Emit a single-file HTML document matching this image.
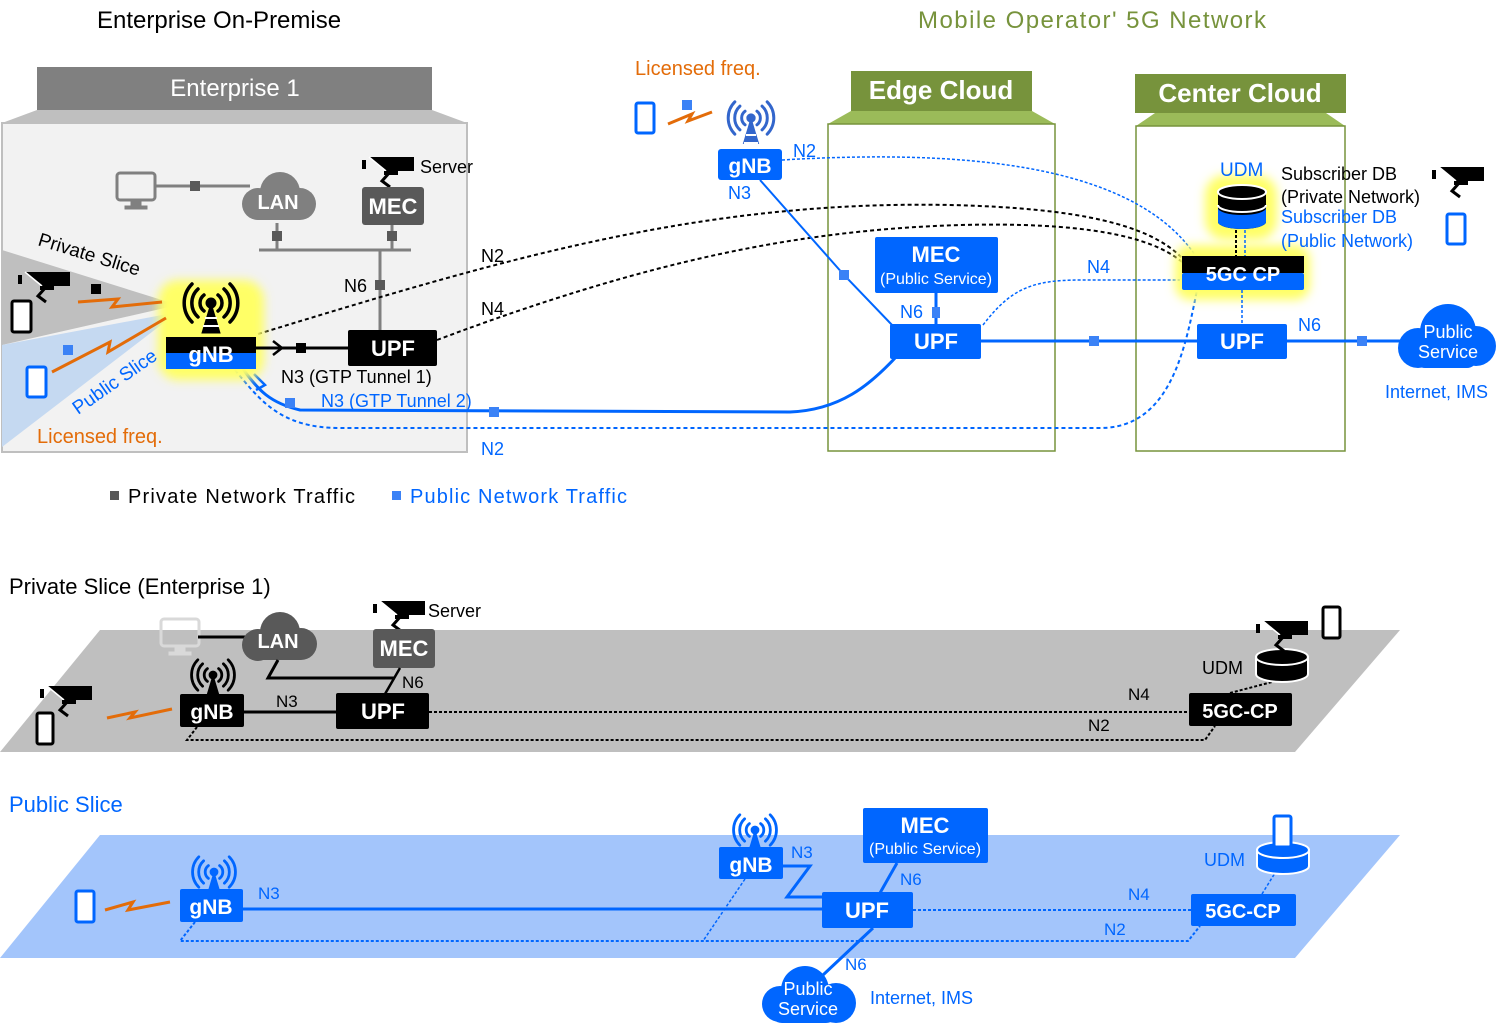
<!DOCTYPE html>
<html><head><meta charset="utf-8"><style>
html,body{margin:0;padding:0;background:#fff;}
svg{display:block;font-family:"Liberation Sans",sans-serif;}
</style></head><body>
<svg width="1502" height="1035" viewBox="0 0 1502 1035" xmlns="http://www.w3.org/2000/svg">
<defs>
<filter id="glow" x="-50%" y="-50%" width="200%" height="200%"><feGaussianBlur stdDeviation="5"/></filter>
<g id="antK">
 <path d="M-7,-8 A10,10 0 0 0 -7,8 M7,-8 A10,10 0 0 1 7,8 M-13,-14 A19,19 0 0 0 -13,14 M13,-14 A19,19 0 0 1 13,14 M-19,-19 A27,27 0 0 0 -19,19 M19,-19 A27,27 0 0 1 19,19" fill="none" stroke-width="3.5" stroke-linecap="round"/>
 <circle r="5"/>
 <path d="M0,0 L-9,30 L9,30 Z"/>
</g>
<g id="cam">
 <rect x="0" y="3" width="4" height="9" fill="#000"/>
 <path d="M7,0 L52,0 L52,14 L24,14 Z" fill="#000"/>
 <path d="M7,0 L24,14" stroke="#fff" stroke-width="1.5"/>
 <path d="M28,15 L20,24 L28,30" fill="none" stroke="#000" stroke-width="3"/>
 <rect x="22" y="14" width="14" height="4" fill="#000"/>
</g>
<g id="monitor">
 <rect x="0" y="0" width="38" height="27" rx="3" fill="none" stroke-width="3"/>
 <rect x="14" y="28" width="10" height="5"/>
 <rect x="8" y="33" width="22" height="3"/>
</g>
</defs>

<!-- Titles -->
<text x="97" y="28" font-size="24" fill="#000">Enterprise On-Premise</text>
<text x="918" y="28" font-size="24" fill="#77933c" textLength="348">Mobile Operator' 5G Network</text>

<!-- Enterprise box -->
<rect x="37" y="67" width="395" height="43" fill="#808080"/>
<text x="235" y="96" font-size="24" fill="#fff" text-anchor="middle">Enterprise 1</text>
<polygon points="37,110 432,110 467,123 2,123" fill="#bfbfbf"/>
<rect x="2" y="123" width="465" height="329" fill="#f2f2f2" stroke="#bfbfbf" stroke-width="2"/>
<polygon points="2,250 178,305 2,345" fill="#bfbfbf"/>
<polygon points="2,345 178,312 2,447" fill="#c5d9f1"/>

<!-- Edge cloud -->
<rect x="851" y="71" width="181" height="40" fill="#77933c"/>
<text x="941" y="99" font-size="26" font-weight="bold" fill="#fff" text-anchor="middle">Edge Cloud</text>
<polygon points="851,111 1032,111 1055,124 828,124" fill="#9bbb59"/>
<rect x="828" y="124" width="227" height="327" fill="#fff" stroke="#77933c" stroke-width="1.5"/>
<!-- Center cloud -->
<rect x="1135" y="74" width="211" height="39" fill="#77933c"/>
<text x="1240" y="102" font-size="26" font-weight="bold" fill="#fff" text-anchor="middle">Center Cloud</text>
<polygon points="1155,113 1326,113 1345,126 1136,126" fill="#9bbb59"/>
<rect x="1136" y="126" width="209" height="325" fill="#fff" stroke="#77933c" stroke-width="1.5"/>

<!-- monitor/LAN/MEC -->
<use href="#monitor" x="117" y="173" stroke="#808080" fill="#808080"/>
<line x1="156" y1="186" x2="250" y2="186" stroke="#808080" stroke-width="3"/>
<rect x="190" y="181" width="10" height="10" fill="#595959"/>
<g fill="#808080"><circle cx="258" cy="204" r="16"/><circle cx="280" cy="192" r="20"/><circle cx="300" cy="204" r="16"/><rect x="258" y="200" width="42" height="20"/></g>
<text x="278" y="209" font-size="20" font-weight="bold" fill="#fff" text-anchor="middle">LAN</text>
<use href="#cam" x="362" y="157"/>
<text x="420" y="173" font-size="18">Server</text>
<rect x="362" y="187" width="62" height="38" rx="3" fill="#595959"/>
<text x="393" y="214" font-size="22" font-weight="bold" fill="#fff" text-anchor="middle">MEC</text>
<line x1="259" y1="250" x2="411" y2="250" stroke="#808080" stroke-width="3"/>
<line x1="277" y1="223" x2="277" y2="250" stroke="#808080" stroke-width="3"/>
<line x1="392" y1="225" x2="392" y2="250" stroke="#808080" stroke-width="3"/>
<rect x="272" y="231" width="10" height="10" fill="#595959"/>
<rect x="387" y="231" width="10" height="10" fill="#595959"/>
<line x1="380" y1="250" x2="380" y2="330" stroke="#808080" stroke-width="3"/>
<rect x="375" y="280" width="10" height="10" fill="#595959"/>
<text x="344" y="292" font-size="18">N6</text>

<!-- dotted black N2/N4 -->
<path d="M258,334 C500,260 700,200 950,205 C1080,208 1150,225 1182,258" fill="none" stroke="#000" stroke-width="2" stroke-dasharray="4,3"/>
<path d="M437,340 C650,260 800,230 960,225 C1080,222 1150,235 1182,262" fill="none" stroke="#000" stroke-width="2" stroke-dasharray="4,3"/>
<text x="481" y="262" font-size="18">N2</text>
<text x="481" y="315" font-size="18">N4</text>

<!-- blue tunnel 2 -->
<path d="M243,369 C258,390 270,403 300,410 L790,412 C840,410 870,385 896,357" fill="none" stroke="#0066ff" stroke-width="3"/>
<path d="M254,374 L265,385 L256,390" fill="none" stroke="#0066ff" stroke-width="2.5"/>
<rect x="285" y="398" width="10" height="10" fill="#3b82f6"/>
<rect x="489" y="407" width="10" height="10" fill="#3b82f6"/>
<text x="321" y="407" font-size="18" fill="#0066ff">N3 (GTP Tunnel 2)</text>
<path d="M235,370 C260,400 280,428 340,428 L1100,428 C1170,428 1185,350 1197,290" fill="none" stroke="#0066ff" stroke-width="2" stroke-dasharray="4,3"/>
<text x="481" y="455" font-size="18" fill="#0066ff">N2</text>

<!-- gNB enterprise -->
<rect x="158" y="280" width="106" height="100" rx="20" fill="#ffff66" filter="url(#glow)"/>
<use href="#antK" x="211" y="303" stroke="#000" fill="#000"/>
<path d="M205,318 L217,318 M203,326 L219,326" stroke="#fff" stroke-width="2"/>
<rect x="166" y="337" width="90" height="16" fill="#000"/>
<rect x="166" y="353" width="90" height="16" fill="#0066ff"/>
<text x="211" y="362" font-size="22" font-weight="bold" fill="#fff" text-anchor="middle">gNB</text>
<line x1="256" y1="348" x2="348" y2="348" stroke="#000" stroke-width="3"/>
<path d="M273,341 L282,348 L273,355" fill="none" stroke="#000" stroke-width="2.5"/>
<rect x="296" y="343" width="10" height="10" fill="#000"/>
<rect x="348" y="330" width="89" height="36" rx="2" fill="#000"/>
<text x="393" y="356" font-size="22" font-weight="bold" fill="#fff" text-anchor="middle">UPF</text>
<text x="281" y="383" font-size="18">N3 (GTP Tunnel 1)</text>

<!-- devices enterprise -->
<text x="37" y="245" font-size="19" transform="rotate(17 37 245)">Private Slice</text>
<text x="78" y="415" font-size="19" fill="#0066ff" transform="rotate(-35 78 415)">Public Slice</text>
<use href="#cam" x="18" y="272"/>
<rect x="12" y="301" width="19" height="31" rx="2" fill="#fff" stroke="#000" stroke-width="3"/>
<rect x="91" y="284" width="10" height="10" fill="#000"/>
<path d="M78,302 L118,299 L112,307 L162,302" fill="none" stroke="#e36c09" stroke-width="3"/>
<rect x="63" y="345" width="10" height="10" fill="#3b82f6"/>
<path d="M52,372 L110,342 L108,352 L166,318" fill="none" stroke="#e36c09" stroke-width="3"/>
<rect x="27" y="367" width="19" height="30" rx="2" fill="#fff" stroke="#0066ff" stroke-width="3"/>
<text x="37" y="443" font-size="20" fill="#e36c09">Licensed freq.</text>

<!-- legend -->
<rect x="110" y="491" width="9" height="9" fill="#595959"/>
<text x="128" y="503" font-size="20" textLength="227">Private Network Traffic</text>
<rect x="392" y="491" width="9" height="9" fill="#3b82f6"/>
<text x="410" y="503" font-size="20" fill="#0066ff" textLength="217">Public Network Traffic</text>

<!-- mobile gNB -->
<text x="635" y="75" font-size="20" fill="#e36c09">Licensed freq.</text>
<rect x="636" y="103" width="18" height="30" rx="2" fill="#fff" stroke="#0066ff" stroke-width="3"/>
<rect x="682" y="100" width="10" height="10" fill="#3b82f6"/>
<path d="M668,124 L692,114 L688,121 L712,112" fill="none" stroke="#e36c09" stroke-width="3"/>
<use href="#antK" x="751" y="118" stroke="#3366cc" fill="#3366cc" transform="translate(751 118) scale(0.85) translate(-751 -118)"/>
<path d="M746,135 L756,135 M744,143 L758,143" stroke="#fff" stroke-width="2"/>
<rect x="718" y="149" width="64" height="31" rx="3" fill="#0066ff"/>
<text x="750" y="173" font-size="21" font-weight="bold" fill="#fff" text-anchor="middle">gNB</text>
<text x="793" y="157" font-size="18" fill="#0066ff">N2</text>
<text x="728" y="199" font-size="18" fill="#0066ff">N3</text>
<path d="M760,180 L844,275 L893,326" fill="none" stroke="#0066ff" stroke-width="2"/>
<rect x="839" y="270" width="10" height="10" fill="#3b82f6"/>
<path d="M782,160 C950,150 1130,160 1195,255" fill="none" stroke="#0066ff" stroke-width="1.5" stroke-dasharray="3,2"/>

<!-- Edge MEC/UPF -->
<rect x="875" y="237" width="123" height="56" rx="2" fill="#0066ff"/>
<text x="936" y="262" font-size="22" font-weight="bold" fill="#fff" text-anchor="middle">MEC</text>
<text x="936" y="284" font-size="16" fill="#fff" text-anchor="middle">(Public Service)</text>
<line x1="936" y1="293" x2="936" y2="324" stroke="#0066ff" stroke-width="3"/>
<rect x="932" y="307" width="8" height="11" fill="#3b82f6"/>
<text x="900" y="318" font-size="18" fill="#0066ff">N6</text>
<path d="M983,325 C1010,290 1030,280 1080,280 L1180,280" fill="none" stroke="#0066ff" stroke-width="1.5" stroke-dasharray="3,2"/>
<text x="1087" y="273" font-size="18" fill="#0066ff">N4</text>
<rect x="890" y="324" width="91" height="35" rx="2" fill="#0066ff"/>
<text x="936" y="349" font-size="22" font-weight="bold" fill="#fff" text-anchor="middle">UPF</text>
<line x1="981" y1="341" x2="1197" y2="341" stroke="#0066ff" stroke-width="3"/>
<rect x="1089" y="336" width="10" height="10" fill="#3b82f6"/>

<!-- Center: UDM, 5GC CP -->
<rect x="1175" y="245" width="135" height="55" rx="15" fill="#ffff66" filter="url(#glow)"/>
<rect x="1205" y="175" width="72" height="65" rx="20" fill="#ffff66" filter="url(#glow)"/>
<text x="1220" y="176" font-size="19" fill="#0066ff">UDM</text>
<path d="M1218,192 L1218,222 A24,7 0 0 0 1266,222 L1266,192 Z" fill="#000"/>
<path d="M1218,208 L1218,222 A24,7 0 0 0 1266,222 L1266,208 A24,7 0 0 1 1218,208 Z" fill="#0066ff"/>
<ellipse cx="1242" cy="192" rx="24" ry="7" fill="#000" stroke="#fff" stroke-width="2"/>
<path d="M1218,205 A24,7 0 0 0 1266,205" fill="none" stroke="#fff" stroke-width="2"/>
<line x1="1236" y1="230" x2="1236" y2="256" stroke="#000" stroke-width="2" stroke-dasharray="3,2"/>
<line x1="1245" y1="230" x2="1245" y2="256" stroke="#0066ff" stroke-width="1.5" stroke-dasharray="3,2"/>
<rect x="1182" y="256" width="122" height="17" fill="#000"/>
<rect x="1182" y="273" width="122" height="17" rx="2" fill="#0066ff"/>
<text x="1243" y="281" font-size="20" font-weight="bold" fill="#fff" text-anchor="middle">5GC CP</text>
<line x1="1242" y1="290" x2="1242" y2="324" stroke="#0066ff" stroke-width="1.5" stroke-dasharray="3,2"/>
<text x="1281" y="180" font-size="18">Subscriber DB</text>
<text x="1281" y="203" font-size="18">(Private Network)</text>
<text x="1281" y="223" font-size="18" fill="#0066ff">Subscriber DB</text>
<text x="1281" y="247" font-size="18" fill="#0066ff">(Public Network)</text>
<use href="#cam" x="1432" y="167"/>
<rect x="1447" y="214" width="18" height="30" rx="2" fill="#fff" stroke="#0066ff" stroke-width="3"/>
<rect x="1197" y="324" width="90" height="35" rx="2" fill="#0066ff"/>
<text x="1242" y="349" font-size="22" font-weight="bold" fill="#fff" text-anchor="middle">UPF</text>
<line x1="1287" y1="341" x2="1400" y2="341" stroke="#0066ff" stroke-width="3"/>
<rect x="1357" y="336" width="10" height="10" fill="#3b82f6"/>
<text x="1298" y="331" font-size="18" fill="#0066ff">N6</text>
<g fill="#0066ff"><circle cx="1418" cy="348" r="20"/><circle cx="1448" cy="332" r="28"/><circle cx="1476" cy="346" r="20"/><rect x="1415" y="340" width="62" height="28" rx="10"/></g>
<text x="1448" y="338" font-size="18" fill="#fff" text-anchor="middle">Public</text>
<text x="1448" y="358" font-size="18" fill="#fff" text-anchor="middle">Service</text>
<text x="1385" y="398" font-size="18" fill="#0066ff">Internet, IMS</text>

<!-- ===== Private slice bottom ===== -->
<text x="9" y="594" font-size="22">Private Slice (Enterprise 1)</text>
<polygon points="100,630 1400,630 1295,752 0,752" fill="#bfbfbf"/>
<use href="#monitor" x="161" y="619" stroke="#d9d9d9" fill="#d9d9d9"/>
<line x1="198" y1="637" x2="250" y2="637" stroke="#000" stroke-width="3"/>
<g fill="#595959"><circle cx="258" cy="645" r="16"/><circle cx="280" cy="632" r="20"/><circle cx="301" cy="644" r="16"/><rect x="258" y="640" width="43" height="20"/></g>
<text x="278" y="648" font-size="20" font-weight="bold" fill="#fff" text-anchor="middle">LAN</text>
<use href="#cam" x="373" y="601"/>
<text x="428" y="617" font-size="18">Server</text>
<rect x="373" y="629" width="62" height="39" rx="3" fill="#595959"/>
<text x="404" y="656" font-size="22" font-weight="bold" fill="#fff" text-anchor="middle">MEC</text>
<path d="M278,660 L268,678 L395,678" fill="none" stroke="#000" stroke-width="3"/>
<line x1="400" y1="668" x2="385" y2="694" stroke="#000" stroke-width="2.5"/>
<text x="402" y="688" font-size="17">N6</text>
<use href="#antK" x="213" y="675" stroke="#000" fill="#000" transform="translate(213 675) scale(0.8) translate(-213 -675)"/>
<rect x="180" y="694" width="64" height="33" rx="2" fill="#000"/>
<text x="212" y="719" font-size="21" font-weight="bold" fill="#fff" text-anchor="middle">gNB</text>
<line x1="244" y1="712" x2="336" y2="712" stroke="#000" stroke-width="3"/>
<text x="276" y="707" font-size="17">N3</text>
<rect x="336" y="693" width="93" height="36" rx="2" fill="#000"/>
<text x="383" y="719" font-size="22" font-weight="bold" fill="#fff" text-anchor="middle">UPF</text>
<use href="#cam" x="40" y="686"/>
<rect x="37" y="713" width="16" height="31" rx="2" fill="#fff" stroke="#000" stroke-width="3"/>
<path d="M107,718 L135,712 L130,718 L172,709" fill="none" stroke="#e36c09" stroke-width="3"/>
<line x1="429" y1="712" x2="1190" y2="712" stroke="#000" stroke-width="2" stroke-dasharray="3,2"/>
<path d="M197,727 L187,740 L1205,740 L1215,726" fill="none" stroke="#000" stroke-width="2" stroke-dasharray="3,2"/>
<text x="1128" y="700" font-size="17">N4</text>
<text x="1088" y="731" font-size="17">N2</text>
<rect x="1189" y="693" width="103" height="33" rx="2" fill="#000"/>
<text x="1240" y="718" font-size="20" font-weight="bold" fill="#fff" text-anchor="middle">5GC-CP</text>
<line x1="1230" y1="693" x2="1272" y2="682" stroke="#000" stroke-width="2" stroke-dasharray="3,2"/>
<path d="M1256,657 L1256,674 A26,8 0 0 0 1308,674 L1308,657 Z" fill="#000" stroke="#fff" stroke-width="2"/>
<ellipse cx="1282" cy="657" rx="26" ry="8" fill="#000" stroke="#fff" stroke-width="2"/>
<text x="1202" y="674" font-size="18">UDM</text>
<use href="#cam" x="1256" y="621"/>
<rect x="1323" y="607" width="17" height="31" rx="2" fill="#fff" stroke="#000" stroke-width="3"/>

<!-- ===== Public slice bottom ===== -->
<text x="9" y="812" font-size="22" fill="#0066ff">Public Slice</text>
<polygon points="100,835 1400,835 1295,958 0,958" fill="#a3c5fb"/>
<rect x="76" y="891" width="18" height="31" rx="2" fill="#fff" stroke="#0066ff" stroke-width="3"/>
<path d="M105,910 L133,902 L128,910 L170,902" fill="none" stroke="#e36c09" stroke-width="3"/>
<use href="#antK" x="214" y="872" stroke="#0066ff" fill="#0066ff" transform="translate(214 872) scale(0.8) translate(-214 -872)"/>
<rect x="180" y="889" width="63" height="33" rx="2" fill="#0066ff"/>
<text x="211" y="914" font-size="21" font-weight="bold" fill="#fff" text-anchor="middle">gNB</text>
<text x="258" y="899" font-size="17" fill="#0066ff">N3</text>
<line x1="243" y1="909" x2="822" y2="909" stroke="#0066ff" stroke-width="3"/>
<path d="M195,922 L180,941 L1188,941 L1200,926" fill="none" stroke="#0066ff" stroke-width="2" stroke-dasharray="3,2"/>
<line x1="745" y1="879" x2="703" y2="941" stroke="#0066ff" stroke-width="1.5" stroke-dasharray="3,2"/>
<use href="#antK" x="755" y="830" stroke="#0066ff" fill="#0066ff" transform="translate(755 830) scale(0.8) translate(-755 -830)"/>
<rect x="719" y="847" width="64" height="32" rx="2" fill="#0066ff"/>
<text x="751" y="872" font-size="21" font-weight="bold" fill="#fff" text-anchor="middle">gNB</text>
<text x="791" y="858" font-size="17" fill="#0066ff">N3</text>
<path d="M783,866 L810,866 L787,897 L822,897" fill="none" stroke="#0066ff" stroke-width="3"/>
<rect x="863" y="808" width="125" height="55" rx="2" fill="#0066ff"/>
<text x="925" y="833" font-size="22" font-weight="bold" fill="#fff" text-anchor="middle">MEC</text>
<text x="925" y="854" font-size="16" fill="#fff" text-anchor="middle">(Public Service)</text>
<line x1="897" y1="863" x2="880" y2="893" stroke="#0066ff" stroke-width="3"/>
<text x="900" y="885" font-size="17" fill="#0066ff">N6</text>
<rect x="822" y="892" width="91" height="36" rx="2" fill="#0066ff"/>
<text x="867" y="918" font-size="22" font-weight="bold" fill="#fff" text-anchor="middle">UPF</text>
<line x1="873" y1="928" x2="823" y2="975" stroke="#0066ff" stroke-width="3"/>
<text x="845" y="970" font-size="17" fill="#0066ff">N6</text>
<g fill="#0066ff"><circle cx="780" cy="1004" r="18"/><circle cx="805" cy="990" r="24"/><circle cx="836" cy="1003" r="20"/><rect x="770" y="995" width="68" height="28" rx="12"/></g>
<text x="808" y="995" font-size="18" fill="#fff" text-anchor="middle">Public</text>
<text x="808" y="1015" font-size="18" fill="#fff" text-anchor="middle">Service</text>
<text x="870" y="1004" font-size="18" fill="#0066ff">Internet, IMS</text>
<line x1="913" y1="910" x2="1191" y2="910" stroke="#0066ff" stroke-width="2" stroke-dasharray="3,2"/>
<text x="1128" y="900" font-size="17" fill="#0066ff">N4</text>
<text x="1104" y="935" font-size="17" fill="#0066ff">N2</text>
<rect x="1191" y="894" width="105" height="32" rx="2" fill="#0066ff"/>
<text x="1243" y="918" font-size="20" font-weight="bold" fill="#fff" text-anchor="middle">5GC-CP</text>
<line x1="1262" y1="894" x2="1275" y2="873" stroke="#0066ff" stroke-width="1.5" stroke-dasharray="3,2"/>
<path d="M1257,850 L1257,866 A26,8 0 0 0 1309,866 L1309,850 Z" fill="#0066ff" stroke="#fff" stroke-width="2"/>
<ellipse cx="1283" cy="850" rx="26" ry="8" fill="#0066ff" stroke="#fff" stroke-width="2"/>
<rect x="1274" y="816" width="17" height="31" rx="2" fill="#fff" stroke="#0066ff" stroke-width="3"/>
<text x="1204" y="866" font-size="18" fill="#0066ff">UDM</text>
</svg>
</body></html>
